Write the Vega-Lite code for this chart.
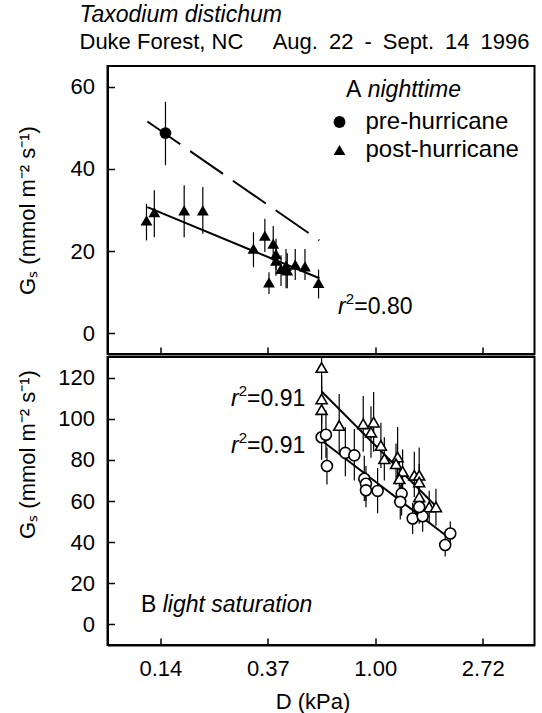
{
  "$schema": "https://vega.github.io/schema/vega-lite/v6.json",
  "background": "white",
  "padding": {"left": 14.5, "right": 3, "top": 4, "bottom": 3},
  "title": {
    "text": "Taxodium distichum",
    "subtitle": "Duke Forest, NC\u00a0\u00a0\u00a0\u00a0 Aug.\u200222\u2002-\u2002Sept.\u200214\u20021996",
    "anchor": "start",
    "dx": 64,
    "font": "Liberation Sans",
    "fontSize": 23,
    "fontStyle": "italic",
    "fontWeight": "normal",
    "color": "black",
    "subtitleFont": "Liberation Sans",
    "subtitleFontSize": 22,
    "subtitleColor": "black",
    "subtitlePadding": 5,
    "offset": 12
  },
  "datasets": {
    "night": [
      {"period": "pre-hurricane", "D": 0.142, "Gs": 48.7, "lo": 40.9, "hi": 56.3},
      {"period": "post-hurricane", "D": 0.119, "Gs": 27.5, "lo": 22.6, "hi": 31.5},
      {"period": "post-hurricane", "D": 0.128, "Gs": 29.5, "lo": 23.4, "hi": 34.8},
      {"period": "post-hurricane", "D": 0.169, "Gs": 29.9, "lo": 23.4, "hi": 36.0},
      {"period": "post-hurricane", "D": 0.201, "Gs": 29.9, "lo": 24.2, "hi": 35.6},
      {"period": "post-hurricane", "D": 0.322, "Gs": 20.6, "lo": 16.1, "hi": 24.6},
      {"period": "post-hurricane", "D": 0.358, "Gs": 23.8, "lo": 19.8, "hi": 27.9},
      {"period": "post-hurricane", "D": 0.372, "Gs": 12.4, "lo": 9.6, "hi": 14.9},
      {"period": "post-hurricane", "D": 0.387, "Gs": 21.8, "lo": 17.5, "hi": 26.1},
      {"period": "post-hurricane", "D": 0.397, "Gs": 19.3, "lo": 15.5, "hi": 23.0},
      {"period": "post-hurricane", "D": 0.397, "Gs": 17.7, "lo": 14.0, "hi": 21.5},
      {"period": "post-hurricane", "D": 0.416, "Gs": 15.7, "lo": 11.5, "hi": 19.0},
      {"period": "post-hurricane", "D": 0.436, "Gs": 16.5, "lo": 11.0, "hi": 20.5},
      {"period": "post-hurricane", "D": 0.441, "Gs": 15.3, "lo": 11.0, "hi": 19.5},
      {"period": "post-hurricane", "D": 0.475, "Gs": 16.7, "lo": 13.0, "hi": 20.5},
      {"period": "post-hurricane", "D": 0.520, "Gs": 16.3, "lo": 13.0, "hi": 20.5},
      {"period": "post-hurricane", "D": 0.590, "Gs": 12.3, "lo": 8.5, "hi": 15.5}
    ],
    "nightfit": [
      {"period": "pre-hurricane", "D": 0.120, "Gs": 51.5},
      {"period": "pre-hurricane", "D": 0.594, "Gs": 22.6},
      {"period": "post-hurricane", "D": 0.120, "Gs": 30.7},
      {"period": "post-hurricane", "D": 0.595, "Gs": 13.4}
    ],
    "light": [
      {"period": "post-hurricane", "D": 0.607, "Gs": 124.9, "lo": 113, "hi": 137},
      {"period": "post-hurricane", "D": 0.607, "Gs": 109.6, "lo": 98, "hi": 121},
      {"period": "post-hurricane", "D": 0.607, "Gs": 104.4, "lo": 93, "hi": 116},
      {"period": "post-hurricane", "D": 0.715, "Gs": 96.7, "lo": 84, "hi": 112},
      {"period": "post-hurricane", "D": 0.894, "Gs": 97.5, "lo": 84, "hi": 111},
      {"period": "post-hurricane", "D": 0.985, "Gs": 98.3, "lo": 84, "hi": 113},
      {"period": "post-hurricane", "D": 0.961, "Gs": 93.5, "lo": 81, "hi": 106},
      {"period": "post-hurricane", "D": 1.054, "Gs": 87.0, "lo": 76, "hi": 98},
      {"period": "post-hurricane", "D": 1.088, "Gs": 80.5, "lo": 70, "hi": 91},
      {"period": "post-hurricane", "D": 1.231, "Gs": 81.4, "lo": 70, "hi": 96},
      {"period": "post-hurricane", "D": 1.213, "Gs": 78.1, "lo": 68, "hi": 88},
      {"period": "post-hurricane", "D": 1.290, "Gs": 74.4, "lo": 64, "hi": 85},
      {"period": "post-hurricane", "D": 1.251, "Gs": 70.8, "lo": 62, "hi": 80},
      {"period": "post-hurricane", "D": 1.438, "Gs": 72.5, "lo": 62, "hi": 84},
      {"period": "post-hurricane", "D": 1.505, "Gs": 72.5, "lo": 60, "hi": 86},
      {"period": "post-hurricane", "D": 1.505, "Gs": 69.2, "lo": 60, "hi": 78},
      {"period": "post-hurricane", "D": 1.505, "Gs": 62.0, "lo": 54, "hi": 70},
      {"period": "post-hurricane", "D": 1.652, "Gs": 57.1, "lo": 49, "hi": 65},
      {"period": "post-hurricane", "D": 1.759, "Gs": 57.1, "lo": 48, "hi": 66},
      {"period": "pre-hurricane", "D": 0.607, "Gs": 91.0, "lo": 80, "hi": 102},
      {"period": "pre-hurricane", "D": 0.632, "Gs": 92.2, "lo": 81, "hi": 104},
      {"period": "pre-hurricane", "D": 0.638, "Gs": 77.0, "lo": 68, "hi": 86},
      {"period": "pre-hurricane", "D": 0.757, "Gs": 83.4, "lo": 72, "hi": 96},
      {"period": "pre-hurricane", "D": 0.823, "Gs": 82.2, "lo": 70, "hi": 95},
      {"period": "pre-hurricane", "D": 0.903, "Gs": 70.8, "lo": 60, "hi": 82},
      {"period": "pre-hurricane", "D": 0.917, "Gs": 68.4, "lo": 60, "hi": 77},
      {"period": "pre-hurricane", "D": 0.917, "Gs": 65.2, "lo": 57, "hi": 74},
      {"period": "pre-hurricane", "D": 1.022, "Gs": 64.9, "lo": 54, "hi": 76},
      {"period": "pre-hurricane", "D": 1.278, "Gs": 63.6, "lo": 53, "hi": 75},
      {"period": "pre-hurricane", "D": 1.262, "Gs": 59.6, "lo": 51, "hi": 68},
      {"period": "pre-hurricane", "D": 1.416, "Gs": 51.5, "lo": 44, "hi": 59},
      {"period": "pre-hurricane", "D": 1.554, "Gs": 52.6, "lo": 45, "hi": 60},
      {"period": "pre-hurricane", "D": 1.505, "Gs": 57.1, "lo": 49, "hi": 65},
      {"period": "pre-hurricane", "D": 2.010, "Gs": 44.2, "lo": 38, "hi": 50},
      {"period": "pre-hurricane", "D": 1.917, "Gs": 38.6, "lo": 33, "hi": 45}
    ],
    "lightfit": [
      {"period": "post-hurricane", "D": 0.607, "Gs": 113.2},
      {"period": "post-hurricane", "D": 1.84, "Gs": 55.1},
      {"period": "pre-hurricane", "D": 0.607, "Gs": 89.4},
      {"period": "pre-hurricane", "D": 1.96, "Gs": 42.6}
    ]
  },
  "spacing": 0,
  "resolve": {
    "scale": {"x": "independent", "y": "independent", "shape": "independent"},
    "legend": {"shape": "independent"}
  },
  "vconcat": [
    {
      "width": 427,
      "height": 288,
      "layer": [
        {
          "data": {"name": "night"},
          "mark": {"type": "rule", "color": "black", "strokeWidth": 1.2},
          "encoding": {
            "x": {
              "field": "D", "type": "quantitative", "title": null,
              "scale": {"type": "log", "base": 2.718281828459045, "domain": [0.0828, 4.40], "nice": false},
              "axis": {"values": [0.135335, 0.367879, 1, 2.718282], "labels": false, "title": null}
            },
            "y": {"field": "lo", "type": "quantitative", "title": "Gₛ (mmol m⁻² s⁻¹)",
              "scale": {"domain": [-5, 65], "nice": false, "zero": false},
              "axis": {"values": [0, 20, 40, 60], "titleX": -73, "titleBaseline": "alphabetic"}},
            "y2": {"field": "hi"}
          }
        },
        {
          "data": {"name": "nightfit"},
          "transform": [{"filter": "datum.period === 'pre-hurricane'"}],
          "mark": {"type": "line", "color": "black", "strokeWidth": 2, "strokeDash": [40, 12]},
          "encoding": {
            "x": {"field": "D", "type": "quantitative", "title": null},
            "y": {"field": "Gs", "type": "quantitative", "title": "Gₛ (mmol m⁻² s⁻¹)"}
          }
        },
        {
          "data": {"name": "nightfit"},
          "transform": [{"filter": "datum.period === 'post-hurricane'"}],
          "mark": {"type": "line", "color": "black", "strokeWidth": 2},
          "encoding": {
            "x": {"field": "D", "type": "quantitative", "title": null},
            "y": {"field": "Gs", "type": "quantitative", "title": "Gₛ (mmol m⁻² s⁻¹)"}
          }
        },
        {
          "data": {"name": "night"},
          "mark": {"type": "point", "filled": true, "color": "black", "size": 140, "opacity": 1},
          "encoding": {
            "x": {"field": "D", "type": "quantitative", "title": null},
            "y": {"field": "Gs", "type": "quantitative", "title": "Gₛ (mmol m⁻² s⁻¹)"},
            "shape": {"field": "period", "type": "nominal",
              "scale": {"domain": ["pre-hurricane", "post-hurricane"], "range": ["circle", "triangle-up"]},
              "legend": {"title": null, "orient": "none", "legendX": 220, "legendY": 44,
                "labelFontSize": 24, "labelFont": "Liberation Sans", "labelColor": "black",
                "symbolSize": 140, "symbolFillColor": "black", "symbolStrokeColor": "black", "symbolOpacity": 1,
                "rowPadding": 4, "labelOffset": 14, "padding": 0}}
          }
        },
        {
          "data": {"values": [{}]},
          "mark": {"type": "text", "text": "A", "align": "left", "baseline": "middle", "fontSize": 23},
          "encoding": {"x": {"datum": 0.761}, "y": {"datum": 59.2}}
        },
        {
          "data": {"values": [{}]},
          "mark": {"type": "text", "text": "nighttime", "align": "left", "baseline": "middle", "fontSize": 23, "fontStyle": "italic"},
          "encoding": {"x": {"datum": 0.932}, "y": {"datum": 59.2}}
        },
        {
          "data": {"values": [{}]},
          "mark": {"type": "text", "text": "r", "align": "left", "baseline": "middle", "fontSize": 23, "fontStyle": "italic"},
          "encoding": {"x": {"datum": 0.707}, "y": {"datum": 6.4}}
        },
        {
          "data": {"values": [{}]},
          "mark": {"type": "text", "text": "2", "align": "left", "baseline": "middle", "fontSize": 15, "dy": -8},
          "encoding": {"x": {"datum": 0.7596}, "y": {"datum": 6.4}}
        },
        {
          "data": {"values": [{}]},
          "mark": {"type": "text", "text": "=0.80", "align": "left", "baseline": "middle", "fontSize": 23},
          "encoding": {"x": {"datum": 0.823}, "y": {"datum": 6.4}}
        }
      ]
    },
    {
      "width": 427,
      "height": 288,
      "layer": [
        {
          "data": {"name": "light"},
          "mark": {"type": "rule", "color": "black", "strokeWidth": 1.2, "clip": true},
          "encoding": {
            "x": {
              "field": "D", "type": "quantitative", "title": "D (kPa)",
              "scale": {"type": "log", "base": 2.718281828459045, "domain": [0.0828, 4.40], "nice": false},
              "axis": {"values": [0.135335, 0.367879, 1, 2.718282], "format": ".2f", "labelPadding": 20, "titlePadding": 12, "titleX": 205}
            },
            "y": {"field": "lo", "type": "quantitative", "title": "Gₛ (mmol m⁻² s⁻¹)",
              "scale": {"domain": [-10, 130], "nice": false, "zero": false},
              "axis": {"values": [0, 20, 40, 60, 80, 100, 120], "titleX": -73, "titleY": 97, "titleBaseline": "alphabetic"}},
            "y2": {"field": "hi"}
          }
        },
        {
          "data": {"name": "lightfit"},
          "mark": {"type": "line", "color": "black", "strokeWidth": 2},
          "encoding": {
            "x": {"field": "D", "type": "quantitative", "title": "D (kPa)"},
            "y": {"field": "Gs", "type": "quantitative", "title": "Gₛ (mmol m⁻² s⁻¹)"},
            "detail": {"field": "period", "type": "nominal"}
          }
        },
        {
          "data": {"name": "light"},
          "mark": {"type": "point", "filled": false, "fill": "white", "fillOpacity": 1, "stroke": "black", "strokeWidth": 1.6, "size": 120, "opacity": 1},
          "encoding": {
            "x": {"field": "D", "type": "quantitative", "title": "D (kPa)"},
            "y": {"field": "Gs", "type": "quantitative", "title": "Gₛ (mmol m⁻² s⁻¹)"},
            "shape": {"field": "period", "type": "nominal", "legend": null,
              "scale": {"domain": ["pre-hurricane", "post-hurricane"], "range": ["circle", "triangle-up"]}}
          }
        },
        {
          "data": {"values": [{}]},
          "mark": {"type": "text", "text": "r", "align": "left", "baseline": "middle", "fontSize": 23, "fontStyle": "italic"},
          "encoding": {"x": {"datum": 0.2613}, "y": {"datum": 109.6}}
        },
        {
          "data": {"values": [{}]},
          "mark": {"type": "text", "text": "2", "align": "left", "baseline": "middle", "fontSize": 15, "dy": -8},
          "encoding": {"x": {"datum": 0.281}, "y": {"datum": 109.6}}
        },
        {
          "data": {"values": [{}]},
          "mark": {"type": "text", "text": "=0.91", "align": "left", "baseline": "middle", "fontSize": 23},
          "encoding": {"x": {"datum": 0.3033}, "y": {"datum": 109.6}}
        },
        {
          "data": {"values": [{}]},
          "mark": {"type": "text", "text": "r", "align": "left", "baseline": "middle", "fontSize": 23, "fontStyle": "italic"},
          "encoding": {"x": {"datum": 0.2613}, "y": {"datum": 86.7}}
        },
        {
          "data": {"values": [{}]},
          "mark": {"type": "text", "text": "2", "align": "left", "baseline": "middle", "fontSize": 15, "dy": -8},
          "encoding": {"x": {"datum": 0.281}, "y": {"datum": 86.7}}
        },
        {
          "data": {"values": [{}]},
          "mark": {"type": "text", "text": "=0.91", "align": "left", "baseline": "middle", "fontSize": 23},
          "encoding": {"x": {"datum": 0.3033}, "y": {"datum": 86.7}}
        },
        {
          "data": {"values": [{}]},
          "mark": {"type": "text", "text": "B", "align": "left", "baseline": "middle", "fontSize": 23},
          "encoding": {"x": {"datum": 0.1131}, "y": {"datum": 9.3}}
        },
        {
          "data": {"values": [{}]},
          "mark": {"type": "text", "text": "light saturation", "align": "left", "baseline": "middle", "fontSize": 23, "fontStyle": "italic"},
          "encoding": {"x": {"datum": 0.1384}, "y": {"datum": 9.3}}
        }
      ]
    }
  ],
  "config": {
    "font": "Liberation Sans",
    "view": {"stroke": "black", "strokeWidth": 2},
    "axis": {
      "grid": false,
      "domainColor": "black", "domainWidth": 2,
      "tickColor": "black", "tickWidth": 1.5, "tickSize": -7,
      "labelColor": "black", "labelFont": "Liberation Sans", "labelFontSize": 22, "labelPadding": 20,
      "titleColor": "black", "titleFont": "Liberation Sans", "titleFontSize": 22, "titleFontWeight": "normal"
    },
    "text": {"font": "Liberation Sans", "fontSize": 23, "color": "black"}
  }
}
